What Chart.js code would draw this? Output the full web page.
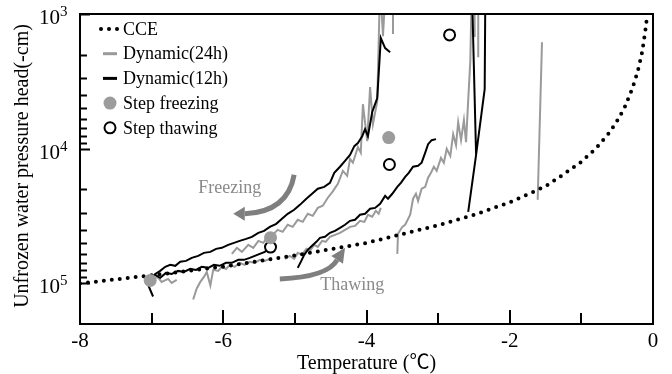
<!DOCTYPE html>
<html lang="en">
<head>
<meta charset="UTF-8"/>
<title>Unfrozen water pressure head vs temperature</title>
<style>
  body { margin: 0; background: #fff; }
  canvas { display: block; }
</style>
</head>
<body>
<canvas id="chart" width="672" height="374"></canvas>
<script src="https://cdn.jsdelivr.net/npm/chart.js@4.4.1/dist/chart.umd.min.js"></script>
<script>
// temperature (°C), unfrozen water pressure head (-cm)
const cce = [[-8, 100000], [-7, 87000], [-6, 75000], [-5, 62000], [-4, 50000], [-3, 37000], [-2.5, 31000],
  [-2, 25000], [-1.5, 19000], [-1.25, 15500], [-1, 12500], [-0.8, 10000], [-0.6, 7500], [-0.5, 6200],
  [-0.4, 5000], [-0.3, 3700], [-0.25, 3100], [-0.2, 2500], [-0.15, 1900], [-0.1, 1250], [-0.08, 1000]]

// Dynamic(12h) pieces
const d12Freeze = [[-6.98, 125000], [-7.04, 105000], [-7.02, 94000], [-6.95, 85000], [-6.88, 80700], [-6.81, 75300],
  [-6.74, 72800], [-6.67, 74000], [-6.60, 69100], [-6.52, 68000], [-6.44, 64600], [-6.35, 62400], [-6.27, 59300],
  [-6.18, 58300], [-6.10, 55400], [-6.02, 54400], [-5.93, 51700], [-5.85, 50000], [-5.77, 48300], [-5.68, 46700],
  [-5.60, 45100], [-5.51, 42100], [-5.43, 40700], [-5.35, 38000], [-5.26, 36100], [-5.18, 33100], [-5.10, 30400],
  [-5.01, 28400], [-4.93, 26100], [-4.84, 23500], [-4.76, 21600], [-4.68, 19800], [-4.59, 19200], [-4.51, 17900],
  [-4.45, 15100], [-4.37, 13600], [-4.30, 12300], [-4.23, 11100], [-4.17, 9570], [-4.12, 9090], [-4.06, 8070],
  [-4.02, 7160], [-3.98, 8070], [-3.92, 5340], [-3.85, 4210], [-3.80, 1510], [-3.74, 1790], [-3.67, 1920]]
const d12Thaw1 = [[-7.02, 94000], [-6.95, 86400], [-6.88, 90900], [-6.80, 83500], [-6.72, 84900], [-6.63, 80700],
  [-6.55, 82100], [-6.46, 78000], [-6.38, 79300], [-6.30, 75300], [-6.21, 76600], [-6.13, 72800], [-6.05, 74000],
  [-5.96, 70300], [-5.88, 70300], [-5.79, 66800], [-5.71, 66800], [-5.63, 64600], [-5.56, 62400], [-5.49, 60300],
  [-5.42, 58300], [-5.38, 55400], [-5.35, 51700]]
const d12Thaw2 = [[-4.96, 76600], [-4.91, 68000], [-4.87, 61300], [-4.82, 56300], [-4.76, 52600], [-4.70, 49100],
  [-4.65, 45900], [-4.58, 45100], [-4.51, 42100], [-4.44, 40700], [-4.37, 38700], [-4.30, 36700], [-4.23, 34300],
  [-4.16, 33700], [-4.09, 30900], [-4.02, 30400], [-3.95, 27900], [-3.88, 27500], [-3.81, 25600], [-3.74, 22400],
  [-3.70, 23500], [-3.64, 21600], [-3.57, 19200], [-3.52, 17900], [-3.46, 16200], [-3.41, 15100], [-3.35, 13600],
  [-3.28, 13400], [-3.23, 12700], [-3.18, 10700], [-3.14, 9250], [-3.09, 8640], [-3.03, 8490]]
const d12Thaw3 = [[-2.58, 29400], [-2.47, 11100], [-2.35, 3610], [-2.34, 600]]
const d12Drop = [[-2.53, 600], [-2.47, 11100]]

// Dynamic(24h) pieces
const d24Start = [[-7.02, 95700], [-6.92, 89400], [-6.86, 97400], [-6.77, 92500], [-6.72, 99100], [-6.65, 94100]]
const d24Freeze = [[-5.88, 60300], [-5.81, 54400], [-5.74, 58300], [-5.65, 51700], [-5.58, 54400], [-5.51, 48300],
  [-5.44, 50000], [-5.38, 45100], [-5.31, 43600], [-5.24, 40000], [-5.17, 41400], [-5.10, 36700], [-5.03, 38000],
  [-4.96, 33700], [-4.89, 34900], [-4.82, 30400], [-4.75, 31500], [-4.68, 27500], [-4.61, 26500], [-4.54, 23100],
  [-4.47, 20700], [-4.40, 18200], [-4.33, 14600], [-4.27, 15900], [-4.23, 11900], [-4.19, 12700], [-4.12, 9740],
  [-4.08, 10700], [-4.05, 4670], [-3.99, 8790], [-3.95, 3490], [-3.91, 6570], [-3.85, 4430], [-3.81, 600],
  [-3.77, 1460], [-3.73, 600]]
const d24Spike1 = [[-3.63, 1410], [-3.63, 600]]
const d24Thaw1 = [[-6.42, 131500], [-6.37, 108900], [-6.32, 97400], [-6.27, 89400], [-6.23, 82100], [-6.18, 103500],
  [-6.14, 79300], [-6.07, 80700], [-6.02, 75300], [-5.96, 78000], [-5.91, 72800], [-5.84, 75300], [-5.77, 70300],
  [-5.70, 72800], [-5.63, 69100], [-5.56, 70300], [-5.49, 66800], [-5.42, 68000], [-5.32, 64600]]
const d24Thaw2 = [[-5.14, 65700], [-5.07, 62400], [-5.01, 65700], [-4.96, 59300], [-4.90, 61300], [-4.84, 55400],
  [-4.79, 57300], [-4.73, 51700], [-4.68, 53500], [-4.62, 48300], [-4.57, 49100], [-4.51, 45100], [-4.44, 43600],
  [-4.37, 42100], [-4.30, 40000], [-4.23, 38000], [-4.16, 37400], [-4.09, 34300], [-4.03, 34900], [-3.98, 30900],
  [-3.92, 32000], [-3.87, 28900], [-3.83, 30400], [-3.80, 27500]]
const d24Thaw3 = [[-3.57, 60300], [-3.56, 42800], [-3.50, 38000], [-3.46, 36700], [-3.39, 30900], [-3.35, 23500],
  [-3.31, 21600], [-3.28, 24400], [-3.23, 19800], [-3.18, 19200], [-3.14, 16400], [-3.10, 15100], [-3.06, 13600],
  [-3.02, 14600], [-2.96, 11700], [-2.92, 12700], [-2.88, 10000], [-2.83, 11300], [-2.79, 7800], [-2.75, 9410],
  [-2.72, 6350], [-2.68, 8640], [-2.64, 6130], [-2.61, 8940], [-2.58, 4360], [-2.55, 2200], [-2.53, 600]]
const d24Spike2 = [[-2.49, 1480], [-2.49, 600]]
const d24Spike3 = [[-2.44, 2090], [-2.44, 600]]
const d24Late = [[-1.61, 23900], [-1.55, 1620]]

const stepFreezing = [[-7.02, 95000], [-5.34, 45700], [-3.69, 8260]]
const stepThawing = [[-5.34, 53700], [-3.68, 13100], [-2.84, 1430]]

const xTicks = [-8, -7, -6, -5, -4, -3, -2, -1, 0]
const xLabels = ['-8', '-6', '-4', '-2', '0']
const yMajor = [1000, 10000, 100000]
const yExp = ['3', '4', '5']
const yMinor = [2000, 3000, 4000, 5000, 6000, 7000, 8000, 9000, 20000, 30000, 40000, 50000, 60000, 70000, 80000, 90000]

// annotation arrows: start, control, end, tip
const freezeArrow = [[-5.01, 15600], [-5.10, 29400], [-5.70, 30400], [-5.86, 30400]]
const thawArrow = [[-5.21, 92500], [-4.54, 89400], [-4.41, 66800], [-4.30, 54400]]
const freezeText = [-5.91, 19800]
const thawText = [-4.20, 103500]

const pts = arr => arr.map(([x, y]) => ({x, y}))
const joined = (...segs) => segs.flatMap((s, i) => i ? [{x: s[0][0], y: null}, ...pts(s)] : pts(s))

const serif = "'Liberation Serif', 'Noto Sans CJK JP', serif"
const grayLine = '#9a9a9a'

const frame = {
  id: 'frame',
  afterDatasetsDraw(chart) {
    const {ctx, chartArea: a, scales: {x, y}} = chart
    const P = ([vx, vy]) => ({x: x.getPixelForValue(vx), y: y.getPixelForValue(vy)})
    const seg = (x1, y1, x2, y2) => { ctx.beginPath(); ctx.moveTo(x1, y1); ctx.lineTo(x2, y2); ctx.stroke() }
    ctx.save()

    // arrows + labels
    const arrow = (def) => {
      const [p0, c, p1, tip] = def.map(P)
      ctx.strokeStyle = '#7f7f7f'; ctx.fillStyle = '#7f7f7f'; ctx.lineWidth = 5
      ctx.beginPath(); ctx.moveTo(p0.x, p0.y); ctx.quadraticCurveTo(c.x, c.y, p1.x, p1.y); ctx.stroke()
      const ang = Math.atan2(tip.y - p1.y, tip.x - p1.x), w = 7
      const nx = Math.cos(ang + Math.PI / 2) * w, ny = Math.sin(ang + Math.PI / 2) * w
      ctx.beginPath(); ctx.moveTo(tip.x, tip.y)
      ctx.lineTo(p1.x + nx, p1.y + ny); ctx.lineTo(p1.x - nx, p1.y - ny)
      ctx.closePath(); ctx.fill()
    }
    arrow(freezeArrow)
    arrow(thawArrow)
    ctx.fillStyle = '#8a8a8a'
    ctx.font = '18px ' + serif
    ctx.textAlign = 'center'; ctx.textBaseline = 'middle'
    let t = P(freezeText); ctx.fillText('Freezing', t.x, t.y)
    t = P(thawText); ctx.fillText('Thawing', t.x, t.y)

    // frame and inward ticks
    ctx.strokeStyle = '#000'; ctx.lineWidth = 2
    ctx.strokeRect(a.left, a.top, a.right - a.left, a.bottom - a.top)
    xTicks.forEach(v => {
      const px = Math.round(x.getPixelForValue(v))
      seg(px, a.bottom, px, a.bottom - (v % 2 === 0 ? 14 : 11))
    })
    yMajor.forEach(v => { const py = Math.round(y.getPixelForValue(v)) + 0.5; seg(a.left, py, a.left + 10, py) })
    yMinor.forEach(v => { const py = Math.round(y.getPixelForValue(v)) + 0.5; seg(a.left, py, a.left + 7, py) })

    // tick labels
    ctx.fillStyle = '#000'
    ctx.font = '21px ' + serif
    ctx.textAlign = 'center'; ctx.textBaseline = 'alphabetic'
    xLabels.forEach(l => ctx.fillText(l, x.getPixelForValue(+l), a.bottom + 23))
    yMajor.forEach((v, i) => {
      const py = y.getPixelForValue(v)
      ctx.font = '21px ' + serif; ctx.textAlign = 'right'
      ctx.fillText('10', a.left - 20, py + 10)
      ctx.font = '15px ' + serif; ctx.textAlign = 'left'
      ctx.fillText(yExp[i], a.left - 20, py + 2)
    })

    // axis titles
    ctx.font = '20px ' + serif; ctx.textAlign = 'center'
    ctx.fillText('Temperature (\u2103)', (a.left + a.right) / 2, a.bottom + 45)
    ctx.save()
    ctx.translate(28, (a.top + a.bottom) / 2 - 3)
    ctx.rotate(-Math.PI / 2)
    ctx.fillText('Unfrozen water pressure head(-cm)', 0, 0)
    ctx.restore()

    // legend
    ctx.font = '18px ' + serif; ctx.textAlign = 'left'; ctx.textBaseline = 'middle'
    chart.data.datasets.forEach((ds, i) => {
      const cy = a.top + 15 + i * 24.7, cx = a.left + 30
      if (ds.borderDash) {
        ctx.fillStyle = ds.borderColor
        ;[-9, -1, 7].forEach(dx => { ctx.beginPath(); ctx.arc(cx + dx, cy, 2, 0, Math.PI * 2); ctx.fill() })
      } else if (ds.showLine) {
        ctx.strokeStyle = ds.borderColor; ctx.lineWidth = 3
        seg(cx - 7, cy, cx + 7, cy)
      } else {
        ctx.beginPath(); ctx.arc(cx, cy, ds.pointRadius, 0, Math.PI * 2)
        ctx.fillStyle = ds.backgroundColor; ctx.fill()
        if (ds.borderWidth) { ctx.strokeStyle = ds.borderColor; ctx.lineWidth = ds.borderWidth; ctx.stroke() }
      }
      ctx.fillStyle = '#000'
      ctx.fillText(ds.label, a.left + 43, cy + 1)
    })
    ctx.restore()
  }
}

new Chart(document.getElementById('chart'), {
  type: 'scatter',
  data: {
    datasets: [
      { label: 'CCE', data: pts(cce), showLine: true, borderColor: '#000', borderWidth: 4,
        borderDash: [0, 8], borderCapStyle: 'round', pointRadius: 0, order: 1 },
      { label: 'Dynamic(24h)', data: joined(d24Start, d24Freeze, d24Spike1, d24Thaw1, d24Thaw2, d24Thaw3, d24Spike2, d24Spike3, d24Late),
        showLine: true, borderColor: grayLine, borderWidth: 2, pointRadius: 0, order: 3 },
      { label: 'Dynamic(12h)', data: joined(d12Freeze, d12Thaw1, d12Thaw2, d12Thaw3, d12Drop),
        showLine: true, borderColor: '#000', borderWidth: 2, pointRadius: 0, order: 2 },
      { label: 'Step freezing', data: pts(stepFreezing), pointRadius: 6.5, backgroundColor: '#9c9c9c',
        borderWidth: 0, order: 0 },
      { label: 'Step thawing', data: pts(stepThawing), pointRadius: 5.5, backgroundColor: '#fff',
        borderColor: '#000', borderWidth: 2, order: 0 }
    ]
  },
  options: {
    responsive: false,
    animation: false,
    events: [],
    layout: { padding: { left: 80, right: 19, top: 14, bottom: 50 } },
    plugins: { legend: { display: false }, tooltip: { enabled: false } },
    scales: {
      x: { type: 'linear', min: -8, max: 0, display: false },
      y: { type: 'logarithmic', min: 1000, max: 200000, reverse: true, display: false }
    }
  },
  plugins: [frame]
})
</script>
</body>
</html>
